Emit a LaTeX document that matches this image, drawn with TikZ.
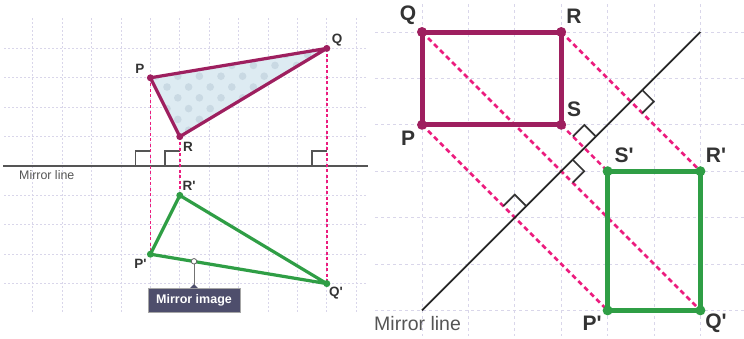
\documentclass[tikz,border=0pt]{standalone}
\usepackage{fontspec}
\setmainfont{Liberation Sans}[Ligatures=TeXOff]
\definecolor{plum}{HTML}{9E1F5F}
\definecolor{grn}{HTML}{2F9E45}
\definecolor{pinkd}{HTML}{EC1C7E}
\definecolor{gridc}{HTML}{D9D6EA}
\definecolor{fillb}{HTML}{DDEBF2}
\definecolor{dotb}{HTML}{C9D9E3}
\definecolor{boxc}{HTML}{4E4E6C}
\definecolor{txt}{HTML}{333333}
\definecolor{mline}{HTML}{555555}
\begin{document}
\begin{tikzpicture}[x=1pt,y=-1pt,
  gridl/.style={gridc, line width=0.7pt, dash pattern=on 2pt off 2pt},
  gridr/.style={gridc, line width=0.8pt, dash pattern=on 3pt off 3pt},
  dashl/.style={pinkd, line width=1.8pt, dash pattern=on 3pt off 2.5pt},
  dashr/.style={pinkd, line width=2.6pt, dash pattern=on 5pt off 3.5pt},
  rtmark/.style={black!80, line width=1.7pt},
  vsmall/.style={circle, inner sep=0pt, minimum size=7pt, fill=#1},
  vbig/.style={circle, inner sep=0pt, minimum size=10pt, fill=#1},
  lbls/.style={text=txt, font=\fontsize{13.5}{14}\selectfont\bfseries, inner sep=0pt},
  lblb/.style={text=txt, font=\fontsize{21}{22}\selectfont\bfseries, inner sep=0pt},
  mtxt/.style={text=mline, inner sep=0pt, anchor=west}]
\useasboundingbox (0,0) rectangle (744,338);
\fill[white] (0,0) rectangle (744,338);

% ---------- left panel grid ----------
\foreach \k in {1,...,12} {\draw[gridl] ({3.4+29.4*\k},18) -- ({3.4+29.4*\k},313);}
\foreach \m in {-4,-3,-2,-1,1,2,3,4} {\draw[gridl] (4,{166+29.4*\m}) -- (367,{166+29.4*\m});}

% ---------- right panel grid ----------
\foreach \k in {0,...,6} {\draw[gridr] ({422+46.4*\k},4) -- ({422+46.4*\k},336);}
\foreach \m in {0,...,6} {\draw[gridr] (375,{32+46.4*\m}) -- (744,{32+46.4*\m});}

% ---------- left panel ----------
\coordinate (lP) at (150.4,77.8);
\coordinate (lQ) at (326.8,48.4);
\coordinate (lR) at (179.8,136.6);
\coordinate (lP2) at (150.4,254.2);
\coordinate (lQ2) at (326.8,283.6);
\coordinate (lR2) at (179.8,195.4);
\coordinate (mlA) at (3,166);
\coordinate (mlB) at (368,166);

\draw[mline, line width=2pt] (mlA) -- (mlB);
\node[mtxt, font=\fontsize{12.4}{13}\selectfont] (lml) at (19,175.5) {Mirror line};

% right angle marks on left
\foreach \xx in {150.4,179.8,326.8} {\draw[mline, line width=1.6pt] (\xx-15,166) -- (\xx-15,151) -- (\xx,151);}

\draw[dashl] (lP) -- (lP2);
\draw[dashl] (lR) -- (lR2);
\draw[dashl] (lQ) -- (lQ2);

% triangle PQR
\fill[fillb] (lP) -- (lQ) -- (lR) -- cycle;
\begin{scope}
\clip (lP) -- (lQ) -- (lR) -- cycle;
\foreach \j in {0,...,9} {
  \foreach \i in {0,...,9} {
    \fill[dotb] ({145.4+21.6*\i+10.8*mod(\j,2)},{43.8+10.8*\j}) circle (3.8);
  }
}
\end{scope}
\draw[plum, line width=3.2pt, line join=round] (lP) -- (lQ) -- (lR) -- cycle;
\node[vsmall=plum] (nP) at (lP) {};
\node[vsmall=plum] (nQ) at (lQ) {};
\node[vsmall=plum] (nR) at (lR) {};

% triangle P'Q'R'
\draw[grn, line width=3.2pt, line join=round] (lP2) -- (lQ2) -- (lR2) -- cycle;
\node[vsmall=grn] (nP2) at (lP2) {};
\node[vsmall=grn] (nQ2) at (lQ2) {};
\node[vsmall=grn] (nR2) at (lR2) {};

% labels left
\node[lbls] (tP) at (140,68.5) {P};
\node[lbls] (tQ) at (337,40) {Q};
\node[lbls] (tR) at (188,146.5) {R};
\node[lbls] (tR2) at (189,186) {R'};
\node[lbls] (tP2) at (140.5,263.5) {P'};
\node[lbls] (tQ2) at (336,293) {Q'};

% Mirror image callout
\coordinate (pin) at (194,261.3);
\node[draw=black!35, fill=boxc, text=white, font=\fontsize{12.5}{13}\selectfont\bfseries,
  minimum width=92pt, minimum height=24pt, inner sep=0pt] (mi) at (194,300) {Mirror image};
\fill[boxc] (190,288.2) -- (194,284) -- (198,288.2) -- cycle;
\draw[black!55, line width=0.9pt] (pin) -- (194,284.5);
\node[circle, draw=black!60, fill=white, line width=0.8pt, inner sep=0pt, minimum size=5.5pt] (pinc) at (pin) {};

% ---------- right panel ----------
\coordinate (rQ) at (422,32);
\coordinate (rR) at (561.2,32);
\coordinate (rS) at (561.2,124.8);
\coordinate (rP) at (422,124.8);
\coordinate (rQ2) at (700.4,310.4);
\coordinate (rR2) at (700.4,171.2);
\coordinate (rS2) at (607.6,171.2);
\coordinate (rP2) at (607.6,310.4);
\coordinate (rmA) at (422,310.4);
\coordinate (rmB) at (700.4,32);
\coordinate (I1) at (561.2,171.2);
\coordinate (I2) at (630.8,101.6);
\coordinate (I3) at (584.4,148);
\coordinate (I4) at (514.8,217.6);

\draw[dashr] (rQ) -- (rQ2);
\draw[dashr] (rR) -- (rR2);
\draw[dashr] (rS) -- (rS2);
\draw[dashr] (rP) -- (rP2);

\draw[black!85, line width=1.7pt] (rmA) -- (rmB);
\draw[rtmark] (I1) ++(11.5,-11.5) -- ++(11.5,11.5) -- ++(-11.5,11.5);
\draw[rtmark] (I2) ++(11.5,-11.5) -- ++(11.5,11.5) -- ++(-11.5,11.5);
\draw[rtmark] (I3) ++(11.5,-11.5) -- ++(-11.5,-11.5) -- ++(-11.5,11.5);
\draw[rtmark] (I4) ++(11.5,-11.5) -- ++(-11.5,-11.5) -- ++(-11.5,11.5);

\draw[plum, line width=5pt] (rQ) -- (rR) -- (rS) -- (rP) -- cycle;
\foreach \v in {rQ,rR,rS,rP} {\node[vbig=plum] at (\v) {};}
\draw[grn, line width=5pt] (rS2) -- (rR2) -- (rQ2) -- (rP2) -- cycle;
\foreach \v in {rS2,rR2,rQ2,rP2} {\node[vbig=grn] at (\v) {};}

\node[lblb] (uQ) at (408,15.5) {Q};
\node[lblb] (uR) at (574,16) {R};
\node[lblb] (uS) at (574,109) {S};
\node[lblb] (uP) at (408,138) {P};
\node[lblb] (uS2) at (624,155) {S'};
\node[lblb] (uR2) at (716,155) {R'};
\node[lblb] (uP2) at (592,323.5) {P'};
\node[lblb] (uQ2) at (716,323.5) {Q'};
\node[mtxt, font=\fontsize{19.5}{20}\selectfont] (rml) at (374,324) {Mirror line};
\end{tikzpicture}
\end{document}
